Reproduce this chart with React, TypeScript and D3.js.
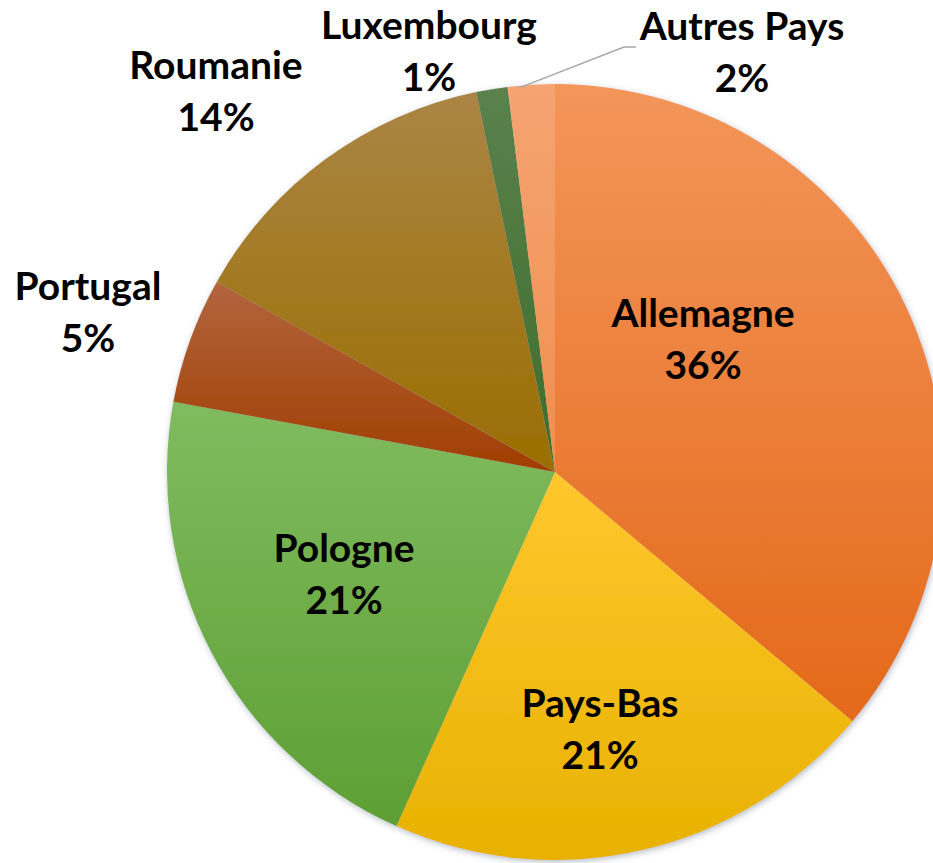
import React from "react";
import * as d3 from "d3";

// Data
const countries = ["Allemagne", "Pays-Bas", "Pologne", "Portugal", "Roumanie", "Luxembourg", "Autres Pays"];
// slice sizes as drawn (angular share, %)
const shares = [36.1, 20.6, 21.2, 5.25, 13.6, 1.3, 1.95];
// percentages printed on the labels
const labelPercents = ["36%", "21%", "21%", "5%", "14%", "1%", "2%"];

// colours (top / bottom of each slice's gradient)
const colorsTop = ["#F3965A", "#FFC72E", "#80BB5F", "#B3653F", "#AB8545", "#5B814D", "#F5A472"];
const colorsBottom = ["#E4691A", "#E8B100", "#5E9F34", "#A03E00", "#9A6E00", "#3E6D2B", "#F08E4E"];

const W = 933;
const H = 863;
const CX = 555;
const CY = 472;
const R = 388;

// label anchor (centre x, first baseline y)
const LABEL_POS: [number, number][] = [
  [703, 327],
  [600, 717],
  [344, 562],
  [88, 300],
  [216, 79],
  [429, 39],
  [742, 40],
];
const LINE_GAP = 52;

export default function App() {
  const pie = d3
    .pie<number>()
    .sort(null)
    .value((d) => d)
    .startAngle(0)
    .endAngle(2 * Math.PI);
  const arcs = pie(shares);
  const arcGen = d3.arc<d3.PieArcDatum<number>>().innerRadius(0).outerRadius(R);

  // leader line for "Autres Pays": from slice edge to label
  const last = arcs[6];
  const mid = (last.startAngle + last.endAngle) / 2 - 0.03;
  const lx0 = CX + (R - 2) * Math.sin(mid);
  const ly0 = CY - (R - 2) * Math.cos(mid);

  return (
    <svg
      width={W}
      height={H}
      style={{ position: "absolute", left: 0, top: 0, display: "block", background: "#fff" }}
    >
      <defs>
        {countries.map((c, i) => (
          <linearGradient key={c} id={`g${i}`} x1="0" y1="0" x2="0" y2="1">
            <stop offset="0" stopColor={colorsTop[i]} />
            <stop offset="1" stopColor={colorsBottom[i]} />
          </linearGradient>
        ))}
        <filter id="shadow" x="-10%" y="-10%" width="120%" height="120%">
          <feDropShadow dx="1" dy="2" stdDeviation="3" floodColor="#5a6a80" floodOpacity="0.45" />
        </filter>
      </defs>
      <g transform={`translate(${CX},${CY})`} filter="url(#shadow)">
        {arcs.map((a, i) => (
          <path key={countries[i]} d={arcGen(a) || ""} fill={`url(#g${i})`} />
        ))}
      </g>
      <polyline
        points={`${lx0},${ly0} 624,47 636,47`}
        fill="none"
        stroke="#A6A6A6"
        strokeWidth={1.5}
      />
      <g fontFamily="Lato, 'Open Sans', sans-serif" fontWeight={700} fontSize={39} fill="#000" textAnchor="middle">
        {countries.map((c, i) => (
          <text key={c} x={LABEL_POS[i][0]} y={LABEL_POS[i][1]}>
            <tspan x={LABEL_POS[i][0]}>{c}</tspan>
            <tspan x={LABEL_POS[i][0]} dy={LINE_GAP}>
              {labelPercents[i]}
            </tspan>
          </text>
        ))}
      </g>
    </svg>
  );
}
